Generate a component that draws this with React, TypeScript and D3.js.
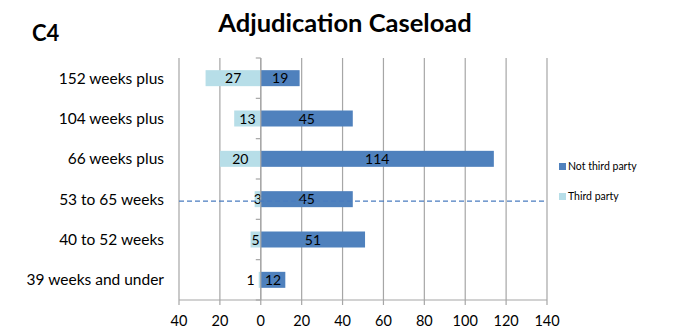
import React from "react";
import * as d3 from "d3";

const categories = ["152 weeks plus", "104 weeks plus", "66 weeks plus", "53 to 65 weeks", "40 to 52 weeks", "39 weeks and under"];
const notThirdParty = [19, 45, 114, 45, 51, 12];
const thirdParty = [27, 13, 20, 3, 5, 1];
const xTicks = [-40, -20, 0, 20, 40, 60, 80, 100, 120, 140];
const seriesNames = ["Not third party", "Third party"];
const colors = ["#4f81bd", "#b7dee8"];
const dashedAt = "53 to 65 weeks";

const W = 678, H = 332;
const FONT = "Lato, 'Open Sans', sans-serif";

export default function App() {
  const x = d3.scaleLinear().domain([-40, 140]).range([179, 547]);
  const y = d3.scaleBand().domain(categories).range([58, 300]);
  const bh = 16;
  const bounds = y.domain().map((_, i) => 58 + i * y.step());
  bounds.push(300);
  return (
    <svg width={W} height={H} style={{ position: "absolute", left: 0, top: 0, background: "#fff" }}>
      <text x={345} y={32} textAnchor="middle" fontFamily={FONT} fontWeight="bold" fontSize={25.5} fill="#000">Adjudication Caseload</text>
      <text x={32} y={41} fontFamily={FONT} fontWeight="bold" fontSize={22} fill="#000">C4</text>
      {xTicks.map(t => (
        <g key={t}>
          <line x1={x(t)} x2={x(t)} y1={58} y2={305} stroke="#a6a6a6" strokeWidth={1.2} />
          <text x={x(t)} y={326} textAnchor="middle" fontFamily={FONT} fontSize={14.5} fill="#000">{Math.abs(t)}</text>
        </g>
      ))}
      <line x1={179} x2={547} y1={300} y2={300} stroke="#a6a6a6" strokeWidth={1.2} />
      {bounds.map((b, i) => (
        <line key={i} x1={x(0) - 5} x2={x(0)} y1={b} y2={b} stroke="#a6a6a6" strokeWidth={1.2} />
      ))}
      {categories.map((c, i) => {
        const cy = (y(c) as number) + y.bandwidth() / 2;
        const tp = thirdParty[i];
        const ntp = notThirdParty[i];
        const tpW = x(0) - x(-tp);
        const tpLabelX = tpW < 4 ? x(-tp) - 4 : (x(-tp) + x(0)) / 2;
        return (
          <g key={c}>
            <text x={164} y={cy + 5.5} textAnchor="end" fontFamily={FONT} fontSize={15.5} fill="#000">{c}</text>
            <rect x={x(-tp)} y={cy - bh / 2} width={tpW} height={bh} fill={colors[1]} />
            <rect x={x(0)} y={cy - bh / 2} width={x(ntp) - x(0)} height={bh} fill={colors[0]} />
            <text x={tpLabelX} y={cy + 5} textAnchor={tpW < 4 ? "end" : "middle"} fontFamily={FONT} fontSize={14} fill="#000">{tp}</text>
            <text x={(x(0) + x(ntp)) / 2} y={cy + 5} textAnchor="middle" fontFamily={FONT} fontSize={14} fill="#000">{ntp}</text>
          </g>
        );
      })}
      <line x1={x(0)} x2={x(0)} y1={58} y2={300} stroke="#a6a6a6" strokeWidth={1.2} />
      <line x1={179} x2={547} y1={(y(dashedAt) as number) + y.bandwidth() / 2 + 2} y2={(y(dashedAt) as number) + y.bandwidth() / 2 + 2} stroke="#4a7cc0" strokeWidth={1.2} strokeDasharray="5,3" />
      {seriesNames.map((s, i) => (
        <g key={s}>
          <rect x={559} y={163 + i * 30} width={7} height={7} fill={colors[i]} />
          <text x={568} y={170 + i * 30} fontFamily={FONT} fontSize={10.5} fill="#000">{s}</text>
        </g>
      ))}
    </svg>
  );
}
